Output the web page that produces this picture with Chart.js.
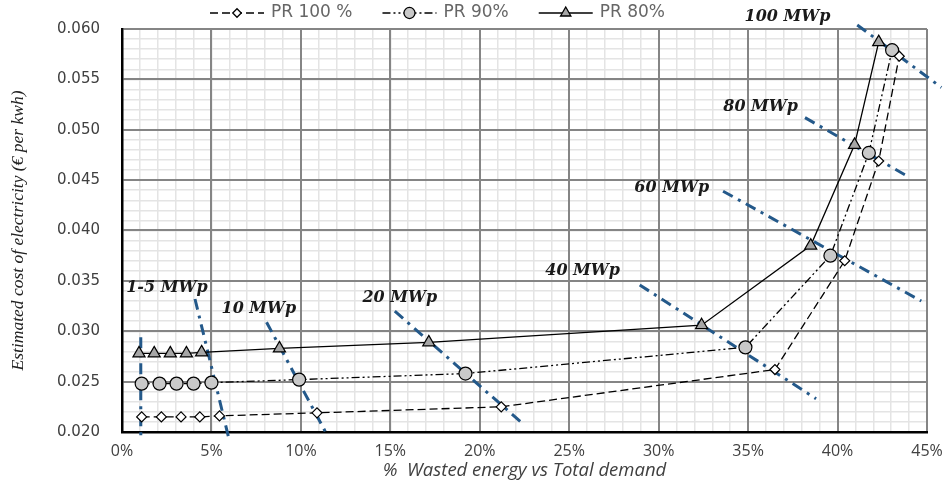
<!DOCTYPE html>
<html>
<head>
<meta charset="utf-8">
<script src="https://cdn.jsdelivr.net/npm/chart.js@4.4.0/dist/chart.umd.min.js"></script>
<style>
  html, body { margin: 0; padding: 0; background: #fff; }
</style>
</head>
<body>
<canvas id="costChart" width="943" height="484"></canvas>
<script>
// series: % wasted energy vs cost (EUR per kWh)
const seriesNames = ['PR 100 %', 'PR 90%', 'PR 80%'];

const wastedPR100 = [1.1, 2.2, 3.3, 4.35, 5.45, 10.9, 21.2, 36.5, 40.4, 42.3, 43.45];
const costPR100   = [0.0215, 0.0215, 0.0215, 0.0215, 0.0216, 0.0219, 0.0225, 0.0262, 0.0370, 0.0469, 0.0573];

const wastedPR90 = [1.1, 2.1, 3.05, 4.0, 5.0, 9.9, 19.2, 34.85, 39.6, 41.75, 43.05];
const costPR90   = [0.0248, 0.0248, 0.0248, 0.0248, 0.0249, 0.0252, 0.0258, 0.0284, 0.0375, 0.0477, 0.0579];

const wastedPR80 = [0.95, 1.8, 2.7, 3.6, 4.45, 8.8, 17.15, 32.4, 38.5, 40.95, 42.3];
const costPR80   = [0.0278, 0.0278, 0.0278, 0.0278, 0.0279, 0.0283, 0.0289, 0.0306, 0.0385, 0.0485, 0.0587];

// iso-capacity lines (start, end)
const isoX = [[1.05, 1.05], [4.08, 5.94], [8.08, 11.44], [15.25, 22.42], [28.94, 38.8], [33.6, 44.68], [38.18, 44.0], [41.1, 45.8]];
const isoY = [[0.0294, 0.0195], [0.0332, 0.0196], [0.0309, 0.0198], [0.0320, 0.0208], [0.0346, 0.0233], [0.0439, 0.0330], [0.0512, 0.0453], [0.0604, 0.0542]];

const mwpLabels = ['1-5 MWp', '10 MWp', '20 MWp', '40 MWp', '60 MWp', '80 MWp', '100 MWp'];
const mwpLabelX = [2.51, 7.65, 15.53, 25.75, 30.73, 35.7, 37.2];
const mwpLabelY = [0.03426, 0.03227, 0.03336, 0.03604, 0.0442, 0.05225, 0.06119];

const xTicks = [0, 5, 10, 15, 20, 25, 30, 35, 40, 45];
const yTicks = [0.020, 0.025, 0.030, 0.035, 0.040, 0.045, 0.050, 0.055, 0.060];

const toPoints = (xs, ys) => xs.map((x, i) => ({ x: x, y: ys[i] }));

const seriesStyle = [
    { dash: [8, 4], pointStyle: 'rectRot', radius: 5, fill: '#ffffff' },
    { dash: [8, 3, 2, 3, 2, 3], pointStyle: 'circle', radius: 6.5, fill: '#c9c9c9' },
    { dash: [], pointStyle: 'triangle', radius: 7, fill: '#a6a6a6' }
];

const seriesData = [
    toPoints(wastedPR100, costPR100),
    toPoints(wastedPR90, costPR90),
    toPoints(wastedPR80, costPR80)
];

const datasets = seriesData.map((pts, i) => ({
    label: seriesNames[i],
    data: pts,
    showLine: true,
    borderColor: '#000',
    borderWidth: 1.3,
    borderDash: seriesStyle[i].dash,
    pointStyle: seriesStyle[i].pointStyle,
    pointRadius: seriesStyle[i].radius,
    pointBackgroundColor: seriesStyle[i].fill,
    pointBorderColor: '#000',
    pointBorderWidth: 1.2,
    xAxisID: 'x',
    yAxisID: 'y',
    order: 0
}));

isoX.forEach((xs, i) => {
    datasets.push({
        label: 'iso' + i,
        data: toPoints(xs, isoY[i]),
        showLine: true,
        borderColor: '#24598a',
        borderWidth: 3,
        borderDash: [11, 6, 3, 6],
        pointRadius: 0,
        clip: false,
        xAxisID: 'x',
        yAxisID: 'y',
        order: 1
    });
});

// legend drawn by hand so the line sample + marker look like the original
const prLegend = {
    id: 'prLegend',
    afterDraw(chart) {
        const ctx = chart.ctx;
        const y = 13;
        let x = 210;
        ctx.save();
        ctx.font = '17px "DejaVu Sans"';
        ctx.textBaseline = 'middle';
        ctx.textAlign = 'left';
        chart.data.datasets.slice(0, 3).forEach(ds => {
            const w = 54;
            ctx.strokeStyle = '#000';
            ctx.lineWidth = 1.3;
            ctx.setLineDash(ds.borderDash);
            ctx.beginPath();
            ctx.moveTo(x, y);
            ctx.lineTo(x + w, y);
            ctx.stroke();
            ctx.setLineDash([]);
            ctx.fillStyle = ds.pointBackgroundColor;
            Chart.helpers.drawPoint(ctx, { pointStyle: ds.pointStyle, radius: ds.pointRadius * 0.85, rotation: 0, borderWidth: 1.2 }, x + w / 2, y);
            ctx.fillStyle = '#666';
            ctx.fillText(ds.label, x + w + 7, y);
            x += w + 7 + ctx.measureText(ds.label).width + 30;
        });
        ctx.restore();
    }
};

const mwpText = {
    id: 'mwpText',
    afterDatasetsDraw(chart) {
        const { ctx, scales: { x, y } } = chart;
        ctx.save();
        ctx.font = 'italic bold 16px "DejaVu Serif"';
        ctx.fillStyle = '#1a1a1a';
        ctx.textAlign = 'center';
        ctx.textBaseline = 'middle';
        mwpLabels.forEach((t, i) => {
            ctx.fillText(t, x.getPixelForValue(mwpLabelX[i]), y.getPixelForValue(mwpLabelY[i]));
        });
        ctx.restore();
    }
};

new Chart(document.getElementById('costChart'), {
    type: 'scatter',
    data: { datasets: datasets },
    plugins: [prLegend, mwpText],
    options: {
        responsive: false,
        animation: false,
        devicePixelRatio: 1,
        layout: { padding: { top: 29, right: 16, bottom: 0, left: 0 } },
        plugins: { legend: { display: false }, tooltip: { enabled: false } },
        scales: {
            x: {
                type: 'linear', position: 'bottom', min: 0, max: 45,
                afterBuildTicks: s => { s.ticks = xTicks.map(v => ({ value: v })); },
                ticks: { padding: 10, color: '#404040', font: { family: 'Open Sans', size: 16 }, callback: v => v + '%' },
                grid: { color: '#858585', lineWidth: 2, drawTicks: false },
                border: { color: '#000', width: 2.5 },
                title: { display: true, text: '%  Wasted energy vs Total demand', color: '#404040',
                         font: { family: 'Open Sans', size: 18.5, style: 'italic' }, padding: { top: 0, bottom: 2 } },
                afterFit: s => { s.height = 52; s.paddingLeft = 0; s.paddingRight = 0; }
            },
            y: {
                type: 'linear', position: 'left', min: 0.02, max: 0.06,
                afterBuildTicks: s => { s.ticks = yTicks.map(v => ({ value: v })); },
                ticks: { padding: 22, color: '#404040', font: { family: 'DejaVu Sans', size: 15 }, callback: v => v.toFixed(3) },
                grid: { color: '#858585', lineWidth: 2, drawTicks: false },
                border: { color: '#000', width: 2.5 },
                title: { display: true, text: 'Estimated cost of electricity (€ per kwh)', color: '#222',
                         font: { family: 'Liberation Serif', size: 17.5, style: 'italic' }, padding: { top: 8, bottom: 0 } },
                afterFit: s => { s.width = 122; s.paddingTop = 0; s.paddingBottom = 0; }
            },
            xMinor: {
                type: 'linear', position: 'bottom', min: 0, max: 45,
                ticks: { display: false, stepSize: 1 },
                grid: { color: '#e4e4e4', lineWidth: 1.5, drawTicks: false, z: -2 },
                border: { display: false },
                afterFit: s => { s.height = 0; s.paddingLeft = 0; s.paddingRight = 0; }
            },
            yMinor: {
                type: 'linear', position: 'left', min: 0.02, max: 0.06,
                ticks: { display: false, stepSize: 0.001 },
                grid: { color: '#e4e4e4', lineWidth: 1.5, drawTicks: false, z: -2 },
                border: { display: false },
                afterFit: s => { s.width = 0; s.paddingTop = 0; s.paddingBottom = 0; }
            }
        }
    }
});
</script>
</body>
</html>
